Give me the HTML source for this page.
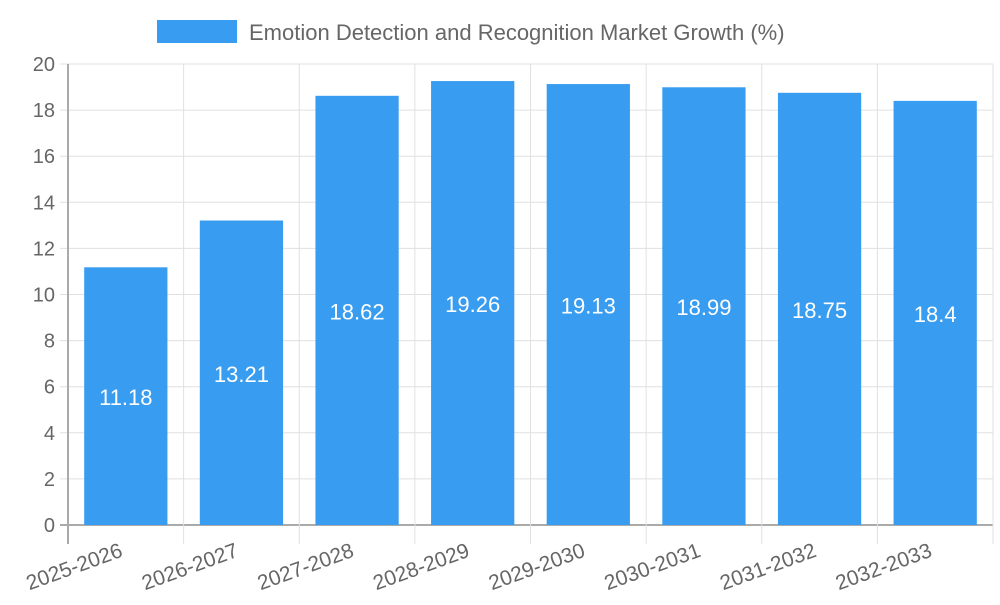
<!DOCTYPE html>
<html><head><meta charset="utf-8"><style>
body{margin:0;background:#fff;font-family:"Liberation Sans",sans-serif}
svg text{font-family:"Liberation Sans",sans-serif}
</style></head><body>
<svg id="chart" width="1000" height="600" xmlns="http://www.w3.org/2000/svg">
<g>
<rect x="157" y="20" width="80" height="23" fill="#389cf0"/>
<text x="249" y="40" font-size="22" fill="#666">Emotion Detection and Recognition Market Growth (%)</text>
</g>
<g id="grid"></g><g id="bars"></g><g id="labels"></g>
</svg>
<script>
const categories=["2025-2026","2026-2027","2027-2028","2028-2029","2029-2030","2030-2031","2031-2032","2032-2033"];
const growthValues=[11.18,13.21,18.62,19.26,19.13,18.99,18.75,18.4];
const yTicks=[0,2,4,6,8,10,12,14,16,18,20];
const X0=68,X1=993,Y0=525,Y1=64,YMAX=20;
const ns="http://www.w3.org/2000/svg";
const band=(X1-X0)/categories.length;
const xs=i=>X0+band*i;
const ys=v=>Y0-(v/YMAX)*(Y0-Y1);
function mk(tag,attrs,parent,txt){const e=document.createElementNS(ns,tag);for(const k in attrs)e.setAttribute(k,attrs[k]);if(txt!==undefined)e.textContent=txt;parent.appendChild(e);return e;}
const grid=document.getElementById('grid'),bars=document.getElementById('bars'),labels=document.getElementById('labels');
yTicks.forEach(t=>{
  const y=ys(t);
  const l=mk('line',{x1:X0-8,x2:X1,y1:y,y2:y,stroke:t===0?'#aaa':'#e0e0e0','stroke-width':t===0?2:1},grid);
  
  
  const tx=mk('text',{x:X0-13,y:y+7,'text-anchor':'end','font-size':20,fill:'#666'},grid,String(t));
  
  
});
for(let i=0;i<=categories.length;i++){
  const x=xs(i);
  const l=mk('line',{x1:x,x2:x,y1:Y1,y2:Y0+19,stroke:i===0?'#aaa':'#e0e0e0','stroke-width':i===0?2:1},grid);
  
  
}
categories.forEach((c,i)=>{
  const v=growthValues[i];
  const w=band*0.72,x=xs(i)+(band-w)/2,y=ys(v);
  const r=mk('rect',{x:x,y:y,width:w,height:Y0-y,fill:'#389cf0'},bars);
  
  
  const vl=mk('text',{x:xs(i)+band/2,y:(y+Y0)/2+9,'text-anchor':'middle','font-size':22,fill:'#fff'},labels,String(v));
  
  
  const cx=xs(i)+band/2-2,cy=556;
  const xl=mk('text',{x:cx,y:cy,'text-anchor':'end','font-size':21,fill:'#666',transform:`rotate(-20 ${cx} ${cy})`},labels,c);
  
  
});
</script>
</body></html>
